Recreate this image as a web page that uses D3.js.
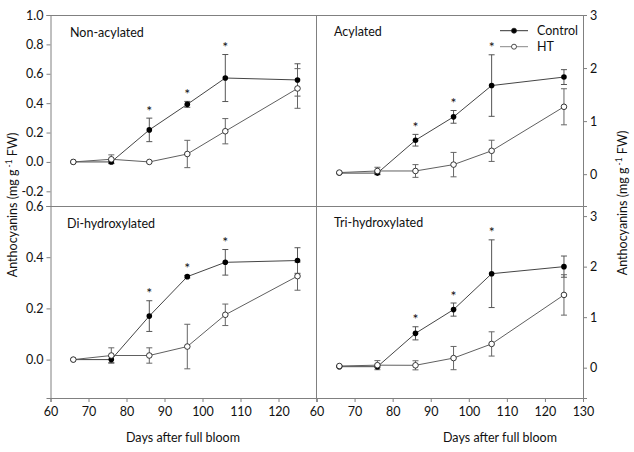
<!DOCTYPE html>
<html><head><meta charset="utf-8">
<script src="https://cdn.jsdelivr.net/npm/d3@7"></script>
<style>body{margin:0;background:#fff}svg{display:block}text{font-family:Lato,"Open Sans",sans-serif;fill:#111}</style>
</head><body><svg id="c" width="634" height="452"></svg>
<script>
const days = [66, 76, 86, 96, 106, 125];
const sigDays = [86, 96, 106];
const xTicksLeft = [60, 70, 80, 90, 100, 110, 120];
const xTicksRight = [60, 70, 80, 90, 100, 110, 120, 130];

const nonAcylCtrl = [0, 0.0, 0.218, 0.392, 0.571, 0.558];
const nonAcylCtrlErr = [0, 0.01, 0.08, 0.02, 0.16, 0.11];
const nonAcylHT = [0, 0.018, 0.0, 0.054, 0.209, 0.5];
const nonAcylHTErr = [0, 0.03, 0.0, 0.093, 0.086, 0.135];

const acylCtrl = [0.02, 0.02, 0.64, 1.08, 1.67, 1.83];
const acylCtrlErr = [0.01, 0.02, 0.11, 0.12, 0.58, 0.14];
const acylHT = [0.03, 0.06, 0.06, 0.18, 0.44, 1.27];
const acylHTErr = [0.01, 0.07, 0.12, 0.23, 0.2, 0.34];

const diCtrl = [0, 0.0, 0.17, 0.324, 0.38, 0.387];
const diCtrlErr = [0, 0.012, 0.06, 0.005, 0.05, 0.05];
const diHT = [0, 0.016, 0.016, 0.051, 0.175, 0.326];
const diHTErr = [0, 0.03, 0.03, 0.087, 0.042, 0.055];

const triCtrl = [0.02, 0.02, 0.68, 1.15, 1.86, 2.0];
const triCtrlErr = [0.01, 0.02, 0.13, 0.13, 0.67, 0.21];
const triHT = [0.033, 0.05, 0.047, 0.19, 0.47, 1.44];
const triHTErr = [0.01, 0.09, 0.09, 0.23, 0.24, 0.4];

const ticksTL = [-0.2, 0.0, 0.2, 0.4, 0.6, 0.8, 1.0];
const ticksBL = [0.0, 0.2, 0.4, 0.6];
const ticksR = [0, 1, 2, 3];

const svg = d3.select("#c");
const L = 50.5, M = 316.5, R = 583, T = 15, H = 206, B = 398;
const axisCol = "#808080";
const fmt1 = v => d3.format(".1f")(v).replace("\u2212", "-");

const panels = [
  {title: "Non-acylated", x0: L, x1: M, y0: T, y1: H, dom: [-0.3, 1.0], ctrl: nonAcylCtrl, ce: nonAcylCtrlErr, ht: nonAcylHT, he: nonAcylHTErr, side: "left", ticks: ticksTL, f: fmt1, tx: 70, ty: 37},
  {title: "Acylated", x0: M, x1: R, y0: T, y1: H, dom: [-0.6, 3.0], ctrl: acylCtrl, ce: acylCtrlErr, ht: acylHT, he: acylHTErr, side: "right", ticks: ticksR, f: d3.format("d"), tx: 334, ty: 36},
  {title: "Di-hydroxylated", x0: L, x1: M, y0: H, y1: B, dom: [-0.15, 0.6], ctrl: diCtrl, ce: diCtrlErr, ht: diHT, he: diHTErr, side: "left", ticks: ticksBL, f: fmt1, tx: 67, ty: 228, xt: xTicksLeft},
  {title: "Tri-hydroxylated", x0: M, x1: R, y0: H, y1: B, dom: [-0.6, 3.2], ctrl: triCtrl, ce: triCtrlErr, ht: triHT, he: triHTErr, side: "right", ticks: ticksR, f: d3.format("d"), tx: 334, ty: 227, xt: xTicksRight}
];

// frame lines
const frame = svg.append("g").attr("stroke", axisCol).attr("stroke-width", 1);
frame.append("line").attr("x1", L).attr("x2", R).attr("y1", T + 0.5).attr("y2", T + 0.5);
frame.append("line").attr("x1", L).attr("x2", R).attr("y1", H + 0.5).attr("y2", H + 0.5);
frame.append("line").attr("x1", M).attr("x2", M).attr("y1", T).attr("y2", B);

panels.forEach(p => {
  const x = d3.scaleLinear().domain([60, 130]).range([p.x0, p.x1]);
  const y = d3.scaleLinear().domain(p.dom).range([p.y1, p.y0]);
  // y axis
  const ax = (p.side === "left" ? d3.axisLeft(y) : d3.axisRight(y))
    .tickValues(p.ticks).tickFormat(p.f).tickSize(4).tickPadding(3);
  const ga = svg.append("g").attr("transform", `translate(${p.side === "left" ? p.x0 : p.x1},0)`).call(ax);
  ga.select(".domain").attr("stroke", axisCol);
  ga.selectAll(".tick line").attr("stroke", axisCol);
  ga.selectAll(".tick text").attr("font-size", 12.5).attr("fill", "#111").style("font-family", "Lato");
  if (p.xt) {
    const xa = d3.axisBottom(x).tickValues(p.xt).tickFormat(d3.format("d")).tickSize(4).tickPadding(5);
    const gx = svg.append("g").attr("transform", `translate(0,${p.y1})`).call(xa);
    gx.select(".domain").attr("stroke", axisCol);
    gx.selectAll(".tick line").attr("stroke", axisCol);
    gx.selectAll(".tick text").attr("font-size", 12.5).attr("fill", "#111").style("font-family", "Lato");
  }
  // title
  svg.append("text").attr("x", p.tx).attr("y", p.ty).attr("font-size", 12.5).text(p.title);

  const g = svg.append("g");
  const line = d3.line().x((d, i) => x(days[i])).y(d => y(d));
  // error bars
  const drawErr = (vals, errs, col) => {
    vals.forEach((v, i) => {
      if (errs[i] <= 0) return;
      const cx = x(days[i]), yt = y(v + errs[i]), yb = y(v - errs[i]);
      g.append("line").attr("x1", cx).attr("x2", cx).attr("y1", yt).attr("y2", yb).attr("stroke", col).attr("stroke-width", 1);
      [yt, yb].forEach(yy => g.append("line").attr("x1", cx - 3).attr("x2", cx + 3).attr("y1", yy).attr("y2", yy).attr("stroke", col).attr("stroke-width", 1));
    });
  };
  drawErr(p.ctrl, p.ce, "#555");
  drawErr(p.ht, p.he, "#666");
  g.append("path").datum(p.ctrl).attr("d", line).attr("fill", "none").attr("stroke", "#454545").attr("stroke-width", 1);
  g.append("path").datum(p.ht).attr("d", line).attr("fill", "none").attr("stroke", "#606060").attr("stroke-width", 1);
  g.selectAll(".c").data(p.ctrl).enter().append("circle")
    .attr("cx", (d, i) => x(days[i])).attr("cy", d => y(d)).attr("r", 2.8).attr("fill", "#000");
  g.selectAll(".h").data(p.ht).enter().append("circle")
    .attr("cx", (d, i) => x(days[i])).attr("cy", d => y(d)).attr("r", 2.8).attr("fill", "#fff").attr("stroke", "#222").attr("stroke-width", 0.9);
  // significance asterisks
  sigDays.forEach(dd => {
    const i = days.indexOf(dd);
    const yy = y(p.ctrl[i] + p.ce[i]) - 2.5;
    svg.append("text").attr("x", x(dd)).attr("y", yy).attr("text-anchor", "middle").attr("font-size", 14).text("*");
  });
});

// legend
const lg = svg.append("g");
const legendItems = [{name: "Control", y: 30.7, fill: "#000", col: "#333"}, {name: "HT", y: 46.7, fill: "#fff", col: "#888"}];
legendItems.forEach(it => {
  lg.append("line").attr("x1", 500).attr("x2", 528).attr("y1", it.y).attr("y2", it.y).attr("stroke", it.col).attr("stroke-width", 1);
  lg.append("circle").attr("cx", 514).attr("cy", it.y).attr("r", 2.5).attr("fill", it.fill).attr("stroke", "#222").attr("stroke-width", 0.8);
  lg.append("text").attr("x", 537).attr("y", it.y + 4.5).attr("font-size", 12.5).text(it.name);
});

// axis titles
const yTitle = (xx, yy) => {
  const t = svg.append("text").attr("transform", `translate(${xx},${yy}) rotate(-90)`).attr("text-anchor", "middle").attr("font-size", 12.5);
  t.append("tspan").text("Anthocyanins (mg g");
  t.append("tspan").attr("dy", -5).attr("font-size", 8.5).text(" -1");
  t.append("tspan").attr("dy", 5).text(" FW)");
};
yTitle(17, 205);
yTitle(627, 203);
svg.append("text").attr("x", 183).attr("y", 442).attr("text-anchor", "middle").attr("font-size", 12.5).text("Days after full bloom");
svg.append("text").attr("x", 500).attr("y", 442).attr("text-anchor", "middle").attr("font-size", 12.5).text("Days after full bloom");
</script></body></html>
